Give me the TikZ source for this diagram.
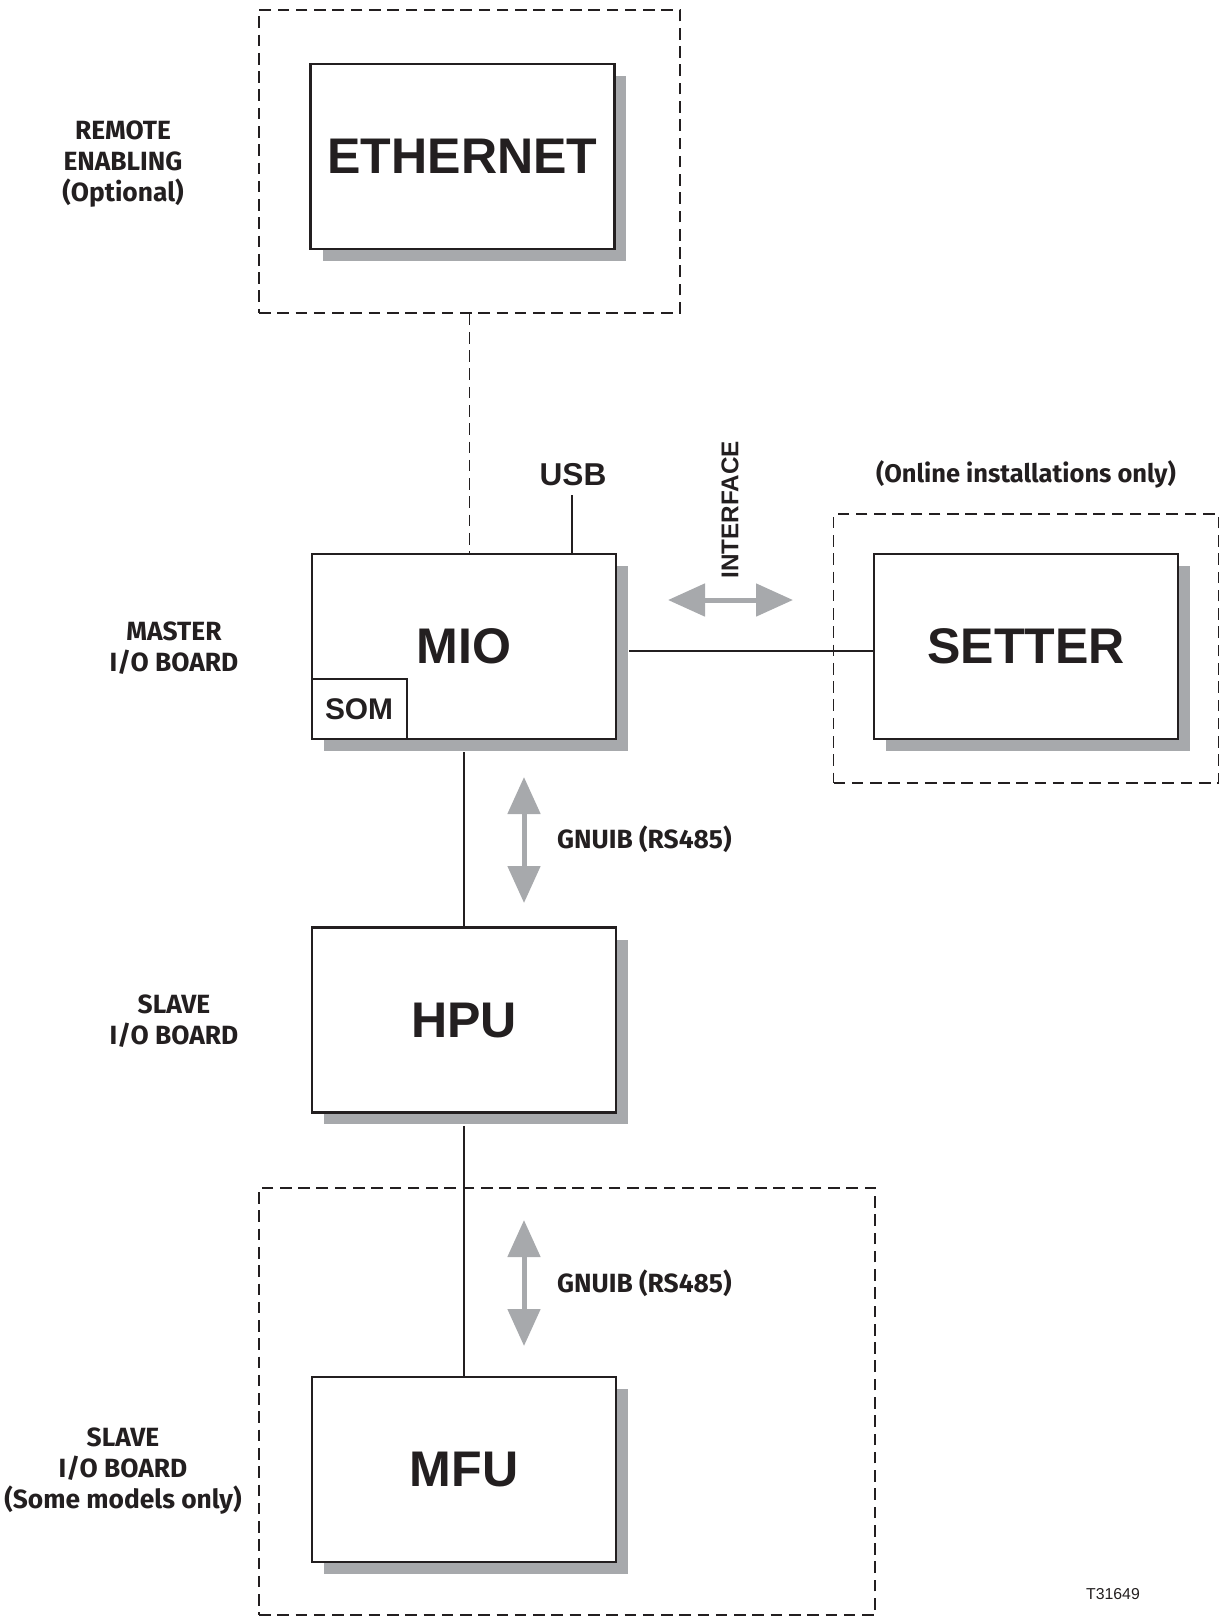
\documentclass[tikz,border=0pt]{standalone}
\usepackage{fontspec}
\setmainfont{Liberation Sans}
\newfontfamily\labelfont{Fira Sans}
\usetikzlibrary{arrows.meta,shadows}
\definecolor{ink}{HTML}{231F20}
\definecolor{shade}{HTML}{A7A9AC}

\begin{document}
\begin{tikzpicture}[x=0.02cm, y=-0.02cm,
    every node/.style={text=ink},
    unit/.style={rectangle, draw=ink, line width=1.6pt, fill=white, minimum width=6.08cm, minimum height=3.7cm, text depth=-0.1cm, font=\fontsize{28.5}{30}\selectfont\bfseries, drop shadow={shadow xshift=0.24cm, shadow yshift=-0.24cm, fill=shade, opacity=1}},
    frame/.style={rectangle, draw=ink, line width=0.8pt, dash pattern=on 6.6pt off 3.8pt, inner sep=0pt},
    side/.style={align=center, font=\labelfont\fontsize{15}{17.6}\selectfont\bfseries},
    tag/.style={font=\fontsize{18}{20}\selectfont\bfseries},
    tie/.style={draw=ink, line width=1.1pt},
    bus/.style={draw=shade, line width=0.1cm, {Triangle[width=0.64cm,length=0.74cm]}-{Triangle[width=0.64cm,length=0.74cm]}}
  ]
    \useasboundingbox (0,0) rectangle (1219,1619);

    % optional groups
    \node[frame, minimum width=8.42cm, minimum height=6.06cm] (ethframe) at (469.5,161.5) {};
    \node[frame, minimum width=7.7cm, minimum height=5.38cm] (setterframe) at (1026,648.5) {};
    \node[frame, minimum width=12.32cm, minimum height=8.54cm] (mfuframe) at (567,1401.5) {};

    % boards
    \node[unit] (ethernet) at (462.5,156.5) {ETHERNET};
    \node[unit] (mio) at (464,646.5) {MIO};
    \node[unit] (setter) at (1026,646.5) {SETTER};
    \node[unit] (hpu) at (464,1020) {HPU};
    \node[unit] (mfu) at (464,1469.5) {MFU};
    \node[rectangle, draw=ink, line width=1.1pt, minimum width=1.9cm, minimum height=1.2cm, anchor=south west, font=\fontsize{17}{19}\selectfont\bfseries] (som) at (mio.south west) {SOM};

    % side labels
    \node[side] (remote) at (123,164) {REMOTE\\ENABLING\\(Optional)};
    \node[side] (master) at (174,648) {MASTER\\I/O BOARD};
    \node[side] (slave) at (174,1021) {SLAVE\\I/O BOARD};
    \node[side] (slaveopt) at (123,1471) {SLAVE\\I/O BOARD\\(Some models only)};
    \node[side, font=\labelfont\fontsize{14.5}{17}\selectfont\bfseries] (online) at (1026,474) {(Online installations only)};

    % links
    \draw[tie, dash pattern=on 6.6pt off 3.8pt, line width=0.9pt] (ethframe.south) -- (ethframe.south |- mio.north);
    \coordinate (usb) at (572,495);
    \node[tag] (usblabel) at (573,475) {USB};
    \draw[tie] (usb) -- (usb |- mio.north);
    \draw[tie] ([xshift=0.24cm, yshift=-0.09cm]mio.east) -- ([yshift=-0.09cm]setter.west);
    \draw[tie] ([yshift=-0.24cm]mio.south) -- (hpu.north);
    \draw[tie] ([yshift=-0.24cm]hpu.south) -- (mfu.north);

    % bus arrows
    \coordinate (ifa) at (668,600);
    \coordinate (ifb) at (793,600);
    \draw[bus] (ifa) -- (ifb);
    \node[rotate=90, font=\fontsize{13.8}{15}\selectfont\bfseries] (iflabel) at (730,510) {INTERFACE};
    \coordinate (gna) at (524,777);
    \coordinate (gnb) at (524,903);
    \draw[bus] (gna) -- (gnb);
    \node[side, anchor=west] (gnlabel) at (551,839) {GNUIB (RS485)};
    \coordinate (gnc) at (524,1220);
    \coordinate (gnd) at (524,1346);
    \draw[bus] (gnc) -- (gnd);
    \node[side, anchor=west] (gnlabel2) at (551,1283) {GNUIB (RS485)};

    \node[font=\fontsize{9}{10}\selectfont] (code) at (1113,1594) {T31649};
  \end{tikzpicture}
\end{document}
